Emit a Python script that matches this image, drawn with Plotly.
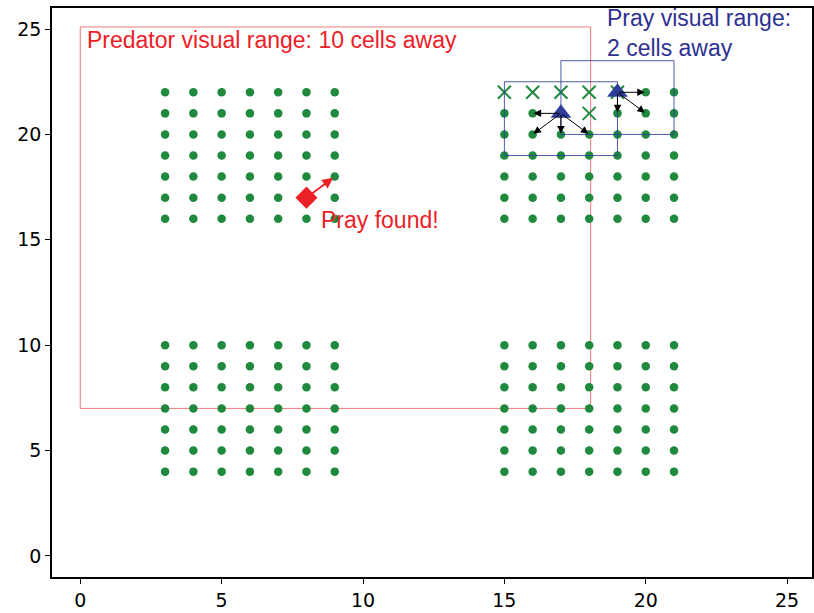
import plotly.graph_objects as go

# Food patches: four 7x7 blocks of cells
patch_x_starts = [3, 3, 15, 15]
patch_y_starts = [16, 4, 16, 4]
patch_size = 7

# Cells already eaten by the prey
eaten_x = [15, 16, 17, 18, 19, 18]
eaten_y = [22, 22, 22, 22, 22, 21]

# Prey positions and their candidate moves
prey_x = [17, 19]
prey_y = [21, 22]
prey_moves = [
    [(16, 21), (16, 20), (17, 20), (18, 20)],
    [(20, 22), (20, 21), (19, 21)],
]

# Predator position and the cell it heads for
predator_x = [8]
predator_y = [17]
predator_target = (9, 18)

# Visual range boxes (x0, y0, x1, y1)
predator_box = (0, 7, 18.05, 25.1)
prey_boxes = [(15, 19, 19, 22.5), (17, 20, 21, 23.5)]

tick_vals = [0, 5, 10, 15, 20, 25]

GREEN = "#1f8a3d"
BLUE = "#2e3d9a"
BLUE_TXT = "#2e3192"
RED = "#ec2027"

eaten = set(zip(eaten_x, eaten_y))
food_x, food_y = [], []
for sx, sy in zip(patch_x_starts, patch_y_starts):
    for i in range(patch_size):
        for j in range(patch_size):
            cx, cy = sx + i, sy + j
            if (cx, cy) not in eaten:
                food_x.append(cx)
                food_y.append(cy)

fig = go.Figure()

fig.add_trace(go.Scatter(
    x=food_x, y=food_y, mode="markers",
    marker=dict(symbol="circle", size=8.5, color=GREEN, line=dict(width=0)),
    hoverinfo="skip", showlegend=False))

fig.add_trace(go.Scatter(
    x=eaten_x, y=eaten_y, mode="markers",
    marker=dict(symbol="x-thin", size=13, color=GREEN,
                line=dict(width=2, color=GREEN)),
    hoverinfo="skip", showlegend=False))

fig.add_trace(go.Scatter(
    x=prey_x, y=prey_y, mode="markers",
    marker=dict(symbol="triangle-up", size=18, color=BLUE, line=dict(width=0)),
    hoverinfo="skip", showlegend=False))

fig.add_trace(go.Scatter(
    x=predator_x, y=predator_y, mode="markers",
    marker=dict(symbol="diamond", size=17, color=RED, line=dict(width=0)),
    hoverinfo="skip", showlegend=False))

shapes = []
bx0, by0, bx1, by1 = predator_box
shapes.append(dict(type="rect", xref="x", yref="y", x0=bx0, y0=by0, x1=bx1, y1=by1,
                   line=dict(color="rgba(236,32,39,0.6)", width=1), layer="below"))
for (x0, y0, x1, y1) in prey_boxes:
    shapes.append(dict(type="rect", xref="x", yref="y", x0=x0, y0=y0, x1=x1, y1=y1,
                       line=dict(color="rgba(46,61,154,0.85)", width=1), layer="above"))

annotations = []
for px, py, moves in zip(prey_x, prey_y, prey_moves):
    for tx, ty in moves:
        annotations.append(dict(
            x=tx, y=ty, ax=px, ay=py, xref="x", yref="y", axref="x", ayref="y",
            text="", showarrow=True, arrowhead=2, arrowsize=1.5, arrowwidth=1,
            arrowcolor="black", standoff=1))

annotations.append(dict(
    x=predator_target[0], y=predator_target[1], ax=predator_x[0], ay=predator_y[0],
    xref="x", yref="y", axref="x", ayref="y", text="", showarrow=True,
    arrowhead=2, arrowsize=1.2, arrowwidth=1.8, arrowcolor=RED, standoff=2))

font_txt = "Liberation Sans, Arial, sans-serif"
annotations.append(dict(
    x=0.15, y=24.5, xref="x", yref="y", xanchor="left", yanchor="middle",
    text="Predator visual range: 10 cells away", showarrow=False,
    font=dict(family=font_txt, size=23, color=RED)))
annotations.append(dict(
    x=8.45, y=15.95, xref="x", yref="y", xanchor="left", yanchor="middle",
    text="Pray found!", showarrow=False,
    font=dict(family=font_txt, size=23, color=RED)))
annotations.append(dict(
    x=18.55, y=24.8, xref="x", yref="y", xanchor="left", yanchor="middle",
    align="left", text="Pray visual range:<br>2 cells away", showarrow=False,
    font=dict(family=font_txt, size=23, color=BLUE_TXT)))

axis_common = dict(
    showgrid=False, zeroline=False, showline=True, linecolor="black", linewidth=1.5,
    mirror=True, ticks="outside", ticklen=5, tickwidth=1.2, tickcolor="black",
    tickvals=tick_vals, tickfont=dict(family="DejaVu Sans", size=19, color="black"))

fig.update_layout(
    width=814, height=613,
    margin=dict(l=52, r=0, t=8, b=36),
    paper_bgcolor="white", plot_bgcolor="white",
    xaxis=dict(range=[-1, 25.88], **axis_common),
    yaxis=dict(range=[-1, 26], **axis_common),
    shapes=shapes, annotations=annotations,
)

fig.write_html("out.html")
